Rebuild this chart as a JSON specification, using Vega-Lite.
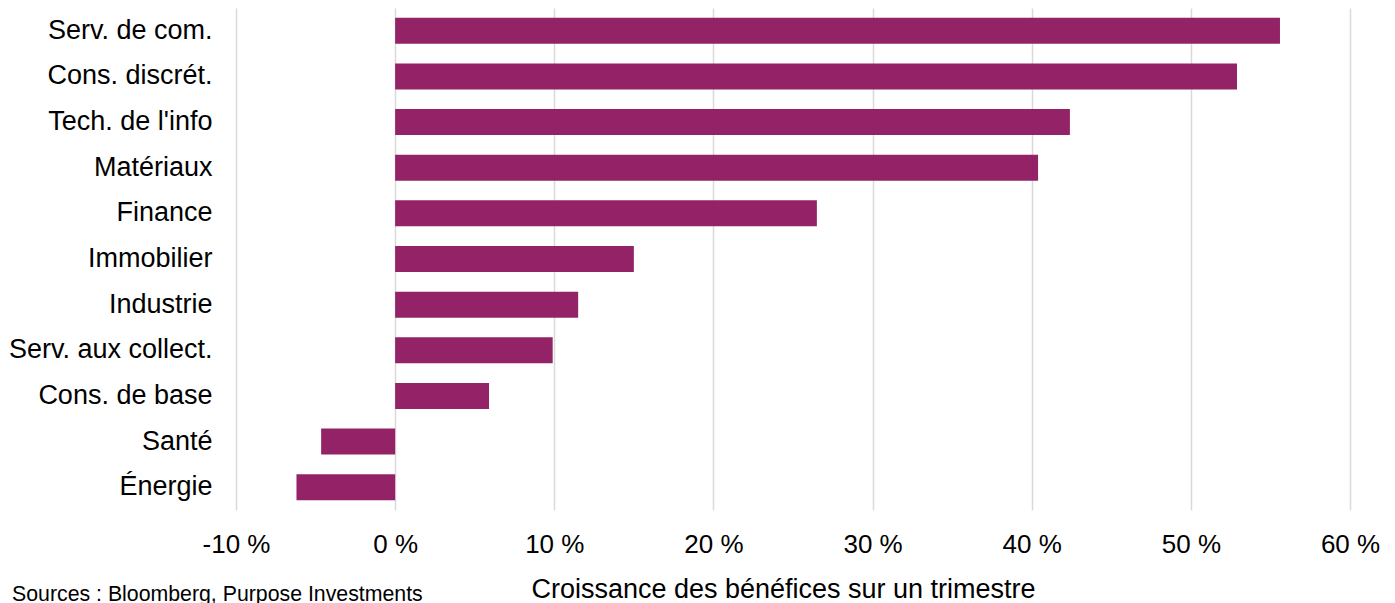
{
  "$schema": "https://vega.github.io/schema/vega-lite/v6.json",
  "width": 1114,
  "height": 502,
  "autosize": {"type": "none"},
  "padding": {"left": 236, "top": 8, "right": 45, "bottom": 93},
  "background": "white",
  "config": {
    "font": "Liberation Sans",
    "view": {"stroke": null}
  },
  "title": {
    "text": "Sources : Bloomberg, Purpose Investments",
    "orient": "bottom",
    "anchor": "start",
    "frame": "group",
    "fontSize": 21.3,
    "fontWeight": "normal",
    "color": "#000000",
    "font": "Liberation Sans",
    "baseline": "alphabetic",
    "offset": 0,
    "dx": -224,
    "dy": -1
  },
  "data": {
    "values": [
      {"secteur": "Serv. de com.", "croissance": 55.6},
      {"secteur": "Cons. discrét.", "croissance": 52.9},
      {"secteur": "Tech. de l'info", "croissance": 42.4},
      {"secteur": "Matériaux", "croissance": 40.4},
      {"secteur": "Finance", "croissance": 26.5},
      {"secteur": "Immobilier", "croissance": 15.0},
      {"secteur": "Industrie", "croissance": 11.5},
      {"secteur": "Serv. aux collect.", "croissance": 9.9},
      {"secteur": "Cons. de base", "croissance": 5.9},
      {"secteur": "Santé", "croissance": -4.65},
      {"secteur": "Énergie", "croissance": -6.2}
    ]
  },
  "mark": {"type": "bar", "color": "#901C61", "opacity": 0.97},
  "encoding": {
    "y": {
      "field": "secteur",
      "type": "nominal",
      "sort": null,
      "scale": {"paddingInner": 0.43, "paddingOuter": 0.215},
      "axis": {
        "title": null,
        "domain": false,
        "ticks": false,
        "grid": false,
        "labelFontSize": 27,
        "labelColor": "#000000",
        "labelPadding": 24,
        "labelLimit": 400
      }
    },
    "x": {
      "field": "croissance",
      "type": "quantitative",
      "scale": {"domain": [-10, 60], "nice": false, "zero": false},
      "axis": {
        "title": "Croissance des bénéfices sur un trimestre",
        "values": [-10, 0, 10, 20, 30, 40, 50, 60],
        "labelExpr": "datum.value + ' %'",
        "domain": false,
        "ticks": false,
        "grid": true,
        "gridColor": "#d9d9d9",
        "gridWidth": 1.5,
        "labelFontSize": 26,
        "labelColor": "#000000",
        "labelPadding": 21,
        "labelFlush": false,
        "titleFontSize": 27,
        "titleFontWeight": "normal",
        "titleColor": "#000000",
        "titleBaseline": "alphabetic",
        "titleX": 547,
        "titleY": 87,
        "titleAlign": "center",
        "titleAnchor": null
      }
    }
  }
}
